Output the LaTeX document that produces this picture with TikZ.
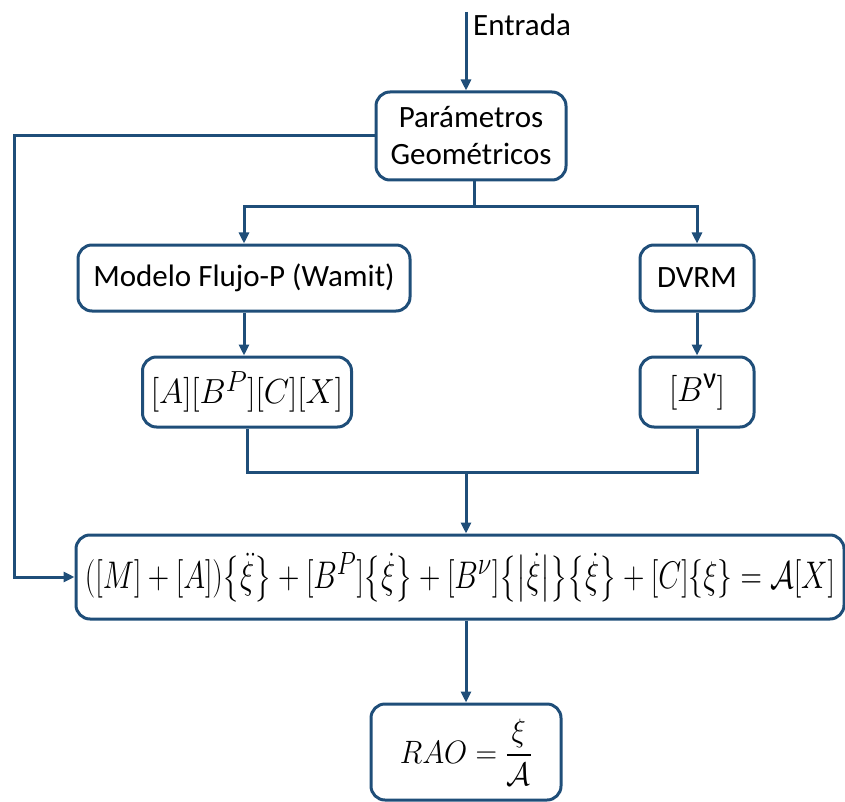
\documentclass[tikz,border=0pt]{standalone}
\usepackage{amsmath}
\usepackage{fontspec}
\setmainfont{Carlito}
\usetikzlibrary{arrows.meta}
\definecolor{flowblue}{RGB}{31,78,121}

\begin{document}
\begin{tikzpicture}[x=1pt, y=-1pt,
	box/.style={draw=flowblue, line width=3pt, rounded corners=14pt, align=center, inner sep=0pt, font=\fontsize{31}{37}\selectfont},
	link/.style={draw=flowblue, line width=3pt},
	arrowlink/.style={link, -{Triangle[length=11pt, width=10pt]}}]
	\useasboundingbox (0, 0) rectangle (845, 802);
	
	% blocks
	\node[box, minimum width=190, minimum height=88] (param) at (471, 136) {Parámetros\\Geométricos};
	\node[box, minimum width=332, minimum height=66] (modelo) at (244, 278) {Modelo Flujo-P (Wamit)};
	\node[box, minimum width=114, minimum height=66] (dvrm) at (697, 278) {DVRM};
	\node[box, minimum width=209, minimum height=70] (matr) at (247, 392) {\scalebox{1.32}[1.4]{$[A][B^{P}][C][X]$}};
	\node[box, minimum width=114, minimum height=70] (bnu) at (697, 392) {\scalebox{1.32}[1.4]{$[B^{\text{ν}}]$}};
	\node[box, minimum width=768, minimum height=84] (eq) at (460, 577)
		{\resizebox{750pt}{!}{\scalebox{1}[1.3]{$([M]+[A])\bigl\{\ddot{\xi}\bigr\}+[B^{P}]\bigl\{\dot{\xi}\bigr\}+[B^{\nu}]\bigl\{\bigl|\dot{\xi}\bigr|\bigr\}\bigl\{\dot{\xi}\bigr\}+[C]\{\xi\}=\mathcal{A}[X]$}}};
	\node[box, minimum width=190, minimum height=96] (rao) at (466, 752) {\scalebox{1.2}[1.3]{$RAO=\dfrac{\xi}{\mathcal{A}}$}};
	
	% helper points
	\coordinate (entry) at (466, 12);
	\coordinate (split) at (474, 207);
	\coordinate (join) at (466, 472);
	\coordinate (fbk) at (14, 350);
	
	% input
	\draw[arrowlink] (entry) -- (entry |- param.north);
	\node[anchor=west, font=\fontsize{31}{37}\selectfont, inner sep=0pt] (entrada) at (473, 25) {Entrada};
	
	% feedback to the equation
	\draw[arrowlink] (param.west) -- (param.west -| fbk) -- (eq.west -| fbk) -- (eq.west);
	
	% split to both models
	\draw[link] (param.south -| split) -- (split);
	\draw[arrowlink] (split) -| (modelo.north);
	\draw[arrowlink] (split) -| (dvrm.north);
	\draw[arrowlink] (modelo.south) -- (modelo.south |- matr.north);
	\draw[arrowlink] (dvrm.south) -- (bnu.north);
	
	% merge into the equation
	\draw[link] (matr.south) |- (bnu.south |- join) -- (bnu.south);
	\draw[arrowlink] (join) -- (join |- eq.north);
	\draw[arrowlink] (join |- eq.south) -- (join |- rao.north);
\end{tikzpicture}
\end{document}
